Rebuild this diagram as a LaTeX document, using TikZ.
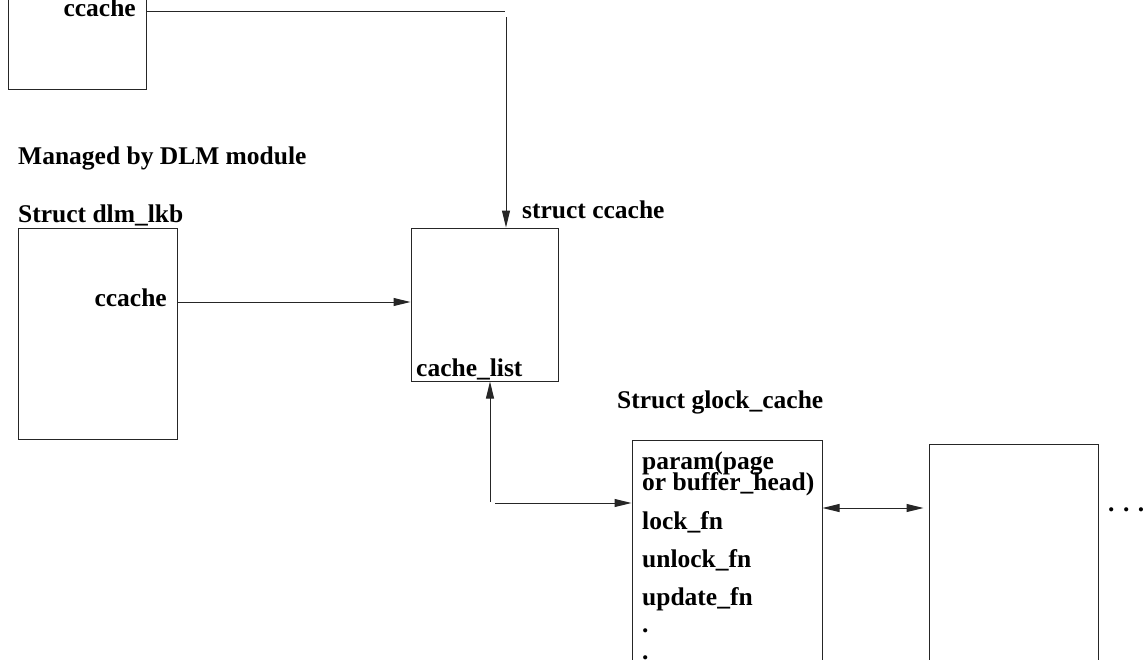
\documentclass[tikz,border=0pt]{standalone}
\usepackage{fontspec}
\setmainfont{Liberation Serif}
\usetikzlibrary{arrows.meta}
\begin{document}
\begin{tikzpicture}[x=1pt,y=-1pt,
  box/.style={draw=black!85,line width=1pt,rectangle,inner sep=0pt},
  lbl/.style={inner sep=0pt,font=\fontsize{25.5}{27}\selectfont\bfseries},
  tip/.style={Triangle[length=17pt,width=8pt]},
  link/.style={draw=black!85,line width=1pt,-{Triangle[length=17pt,width=8pt]}},
  plain/.style={draw=black!85,line width=1pt}]
\useasboundingbox (0,0) rectangle (1143,659);
\clip (0,0) rectangle (1143,659);

% structures
\node[box,minimum width=138pt,minimum height=109pt] (tl) at (77,34.5) {};
\node[box,minimum width=159pt,minimum height=211pt] (dlm) at (97.5,333.5) {};
\node[box,minimum width=147pt,minimum height=153pt] (cc) at (484.5,304.5) {};
\node[box,minimum width=190pt,minimum height=260pt] (gc) at (727,570) {};
\node[box,minimum width=169pt,minimum height=256pt] (nx) at (1013.5,572) {};

% labels
\node[lbl,anchor=base east] (tlc) at (136,16) {ccache};
\node[lbl,anchor=base west] (mgd) at (18,164) {Managed by DLM module};
\node[lbl,anchor=base west] (sdl) at (18,222) {Struct dlm\_lkb};
\node[lbl,anchor=base east] (dlc) at (167,306) {ccache};
\node[lbl,anchor=base west] (scc) at (522,218) {struct ccache};
\node[lbl,anchor=base west] (cl) at (416,376) {cache\_list};
\node[lbl,anchor=base west] (sgc) at (617,408) {Struct glock\_cache};
\node[lbl,anchor=base west] (f1) at (642,469) {param(page};
\node[lbl,anchor=base west] (f2) at (642,490) {or buffer\_head)};
\node[lbl,anchor=base west] (f3) at (642,529) {lock\_fn};
\node[lbl,anchor=base west] (f4) at (642,567) {unlock\_fn};
\node[lbl,anchor=base west] (f5) at (642,605) {update\_fn};
\node[lbl,anchor=base west] (f6) at (642,632) {.};
\node[lbl,anchor=base west] (f7) at (642,659) {.};
\node[lbl,anchor=base west] (more) at (1108,511) {.\,\,.\,\,.};

% connectors
\coordinate (c1) at (505,11);
\coordinate (c2) at (506,17);
\draw[plain] (tl.east |- c1) -- (c1);
\draw[link] (c2) -- (c2 |- cc.north);
\draw[link] (dlm.east |- 0,302) -- (cc.west |- 0,302);
\coordinate (c3) at (490,502);
\coordinate (c4) at (495,503);
\draw[link] (c3) -- (c3 |- cc.south);
\draw[link] (c4) -- (c4 -| gc.west);
\draw[plain,{Triangle[length=17pt,width=8pt]}-{Triangle[length=17pt,width=8pt]},shorten >=5pt] (gc.east |- 0,508) -- (nx.west |- 0,508);
\end{tikzpicture}
\end{document}
